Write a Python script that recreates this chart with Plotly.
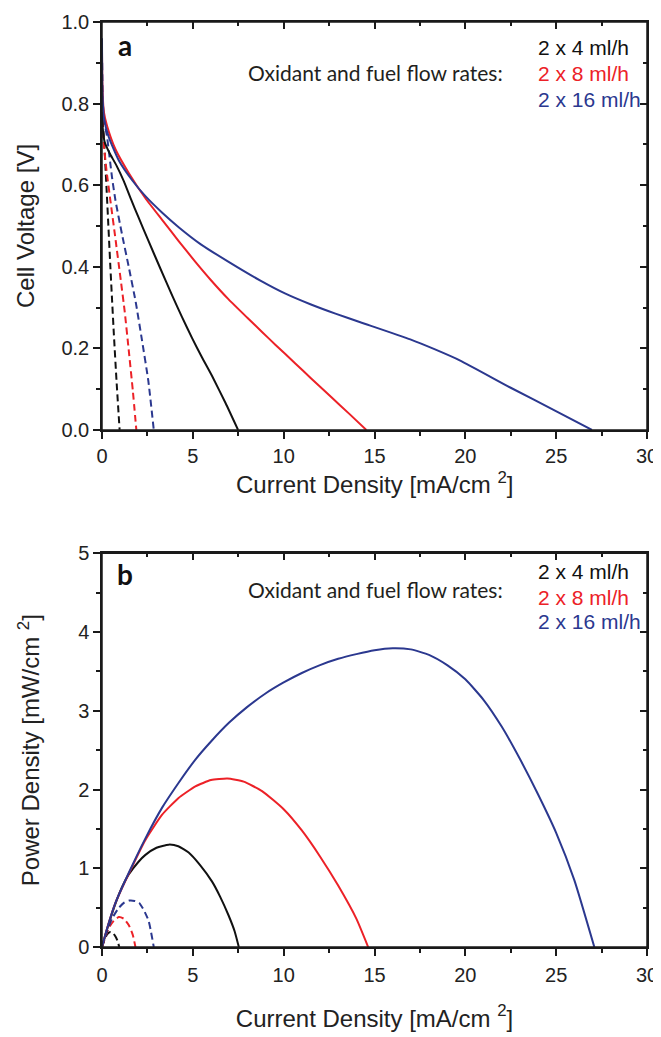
import plotly.graph_objects as go

# ---------------- data: panel a (cell voltage vs current density) ----------------
j_a_4 = [0, 0.05, 0.15, 0.4, 0.8, 1.2, 1.6, 2.0, 2.57, 3.2, 3.86, 4.4, 4.96, 5.5, 6.06, 6.8, 7.49]
v_a_4 = [0.78, 0.735, 0.705, 0.68, 0.648, 0.61, 0.565, 0.522, 0.462, 0.397, 0.33, 0.277, 0.225, 0.178, 0.132, 0.066, 0.0]

j_a_8 = [0, 0.02, 0.1, 0.28, 0.74, 1.47, 2.39, 3.31, 4.22, 5.14, 6.0, 6.97, 8.0, 8.81, 9.54, 10.64, 11.47, 12.63, 13.6, 14.55]
v_a_8 = [0.93, 0.85, 0.78, 0.745, 0.688, 0.63, 0.568, 0.515, 0.463, 0.412, 0.367, 0.32, 0.275, 0.24, 0.209, 0.163, 0.128, 0.08, 0.04, 0.0]

j_a_16 = [0, 0.02, 0.1, 0.37, 0.92, 1.66, 2.39, 3.3, 4.22, 5.44, 6.97, 8.72, 10.1, 11.47, 12.85, 14.22, 16.97, 18.3,
          19.72, 22.47, 25.04, 26.97]
v_a_16 = [0.96, 0.84, 0.767, 0.718, 0.661, 0.612, 0.573, 0.533, 0.497, 0.455, 0.412, 0.366, 0.334, 0.308, 0.285, 0.264,
          0.222, 0.198, 0.17, 0.104, 0.045, 0.0]

j_a_4d = [0.02, 0.1, 0.19, 0.28, 0.46, 0.65, 0.8, 0.97]
v_a_4d = [0.76, 0.72, 0.645, 0.565, 0.40, 0.237, 0.12, 0.0]

j_a_8d = [0.02, 0.1, 0.25, 0.46, 0.75, 1.01, 1.25, 1.47, 1.7, 1.89]
v_a_8d = [0.76, 0.70, 0.635, 0.563, 0.465, 0.375, 0.29, 0.196, 0.095, 0.0]

j_a_16d = [0.01, 0.05, 0.15, 0.28, 0.55, 0.74, 1.1, 1.47, 1.85, 2.2, 2.55, 2.85]
v_a_16d = [0.9, 0.8, 0.75, 0.718, 0.62, 0.563, 0.48, 0.40, 0.315, 0.22, 0.12, 0.0]

# ---------------- data: panel b (power density vs current density) ----------------
j_b_4 = [0, 0.3, 0.74, 1.1, 1.47, 2.0, 2.39, 3.0, 3.67, 4.2, 4.77, 5.4, 6.06, 6.5, 6.97, 7.3, 7.53]
p_b_4 = [0, 0.24, 0.55, 0.76, 0.92, 1.08, 1.17, 1.26, 1.30, 1.28, 1.20, 1.04, 0.83, 0.64, 0.40, 0.20, 0.0]

j_b_8 = [0, 0.3, 0.74, 1.47, 2.39, 3.31, 4.2, 5.14, 6.0, 6.9, 7.8, 8.81, 10, 11, 12, 13, 14, 14.65]
p_b_8 = [0, 0.25, 0.56, 0.93, 1.36, 1.68, 1.89, 2.04, 2.12, 2.14, 2.10, 1.98, 1.75, 1.48, 1.15, 0.78, 0.36, 0.0]

j_b_16 = [0, 0.3, 0.74, 1.47, 2.39, 3.31, 4.2, 5.14, 6, 7, 8, 9, 10, 11, 12, 13, 14, 15, 16, 17, 18, 19, 20,
          21, 22, 23, 24, 25, 26, 27.1]
p_b_16 = [0, 0.25, 0.56, 0.94, 1.38, 1.77, 2.08, 2.38, 2.61, 2.85, 3.05, 3.22, 3.36, 3.48, 3.58, 3.66, 3.72, 3.77, 3.795,
          3.78, 3.71, 3.58, 3.40, 3.14, 2.80, 2.39, 1.94, 1.45, 0.85, 0.0]

j_b_4d = [0, 0.15, 0.28, 0.46, 0.6, 0.75, 0.85, 0.95]
p_b_4d = [0, 0.1, 0.16, 0.19, 0.18, 0.13, 0.08, 0.0]

j_b_8d = [0, 0.2, 0.37, 0.6, 0.92, 1.2, 1.47, 1.7, 1.84]
p_b_8d = [0, 0.14, 0.24, 0.32, 0.38, 0.36, 0.28, 0.15, 0.0]

j_b_16d = [0, 0.25, 0.55, 0.9, 1.2, 1.5, 1.8, 2.05, 2.3, 2.57, 2.85]
p_b_16d = [0, 0.18, 0.36, 0.49, 0.56, 0.59, 0.585, 0.56, 0.47, 0.33, 0.0]

flow_labels = ["2 x 4 ml/h", "2 x 8 ml/h", "2 x 16 ml/h"]
colors = ["#111111", "#EC2127", "#2B388F"]

x_ticks = [0, 5, 10, 15, 20, 25, 30]
v_ticks = [0.0, 0.2, 0.4, 0.6, 0.8, 1.0]
p_ticks = [0, 1, 2, 3, 4, 5]

x_title = "Current Density [mA/cm <sup>2</sup>]"

# ---------------- figure ----------------
fig = go.Figure()
LW = 2.0
DASH = "7px,4px"
SM = 0.5

panel_a = [(j_a_4, v_a_4, j_a_4d, v_a_4d), (j_a_8, v_a_8, j_a_8d, v_a_8d), (j_a_16, v_a_16, j_a_16d, v_a_16d)]
panel_b = [(j_b_4, p_b_4, j_b_4d, p_b_4d), (j_b_8, p_b_8, j_b_8d, p_b_8d), (j_b_16, p_b_16, j_b_16d, p_b_16d)]

for (js, vs, jd, vd), c, name in zip(panel_a, colors, flow_labels):
    fig.add_trace(go.Scatter(x=jd, y=vd, mode="lines", line=dict(color=c, width=LW, dash=DASH, shape="spline", smoothing=SM),
                             xaxis="x", yaxis="y", showlegend=False, name=name))
for (js, vs, jd, vd), c, name in zip(panel_a, colors, flow_labels):
    fig.add_trace(go.Scatter(x=js, y=vs, mode="lines", line=dict(color=c, width=LW, shape="spline", smoothing=SM),
                             xaxis="x", yaxis="y", showlegend=False, name=name))
for (js, ps, jd, pd_), c, name in zip(panel_b, colors, flow_labels):
    fig.add_trace(go.Scatter(x=jd, y=pd_, mode="lines", line=dict(color=c, width=LW, dash=DASH, shape="spline", smoothing=SM),
                             xaxis="x2", yaxis="y2", showlegend=False, name=name))
for (js, ps, jd, pd_), c, name in zip(panel_b, colors, flow_labels):
    fig.add_trace(go.Scatter(x=js, y=ps, mode="lines", line=dict(color=c, width=LW, shape="spline", smoothing=SM),
                             xaxis="x2", yaxis="y2", showlegend=False, name=name))

# invisible single-point traces so that the mirrored (top / right) tick axes are drawn
for xa, ya in [("x3", "y"), ("x", "y3"), ("x4", "y2"), ("x2", "y4")]:
    fig.add_trace(go.Scatter(x=[0], y=[0], xaxis=xa, yaxis=ya, mode="lines", line=dict(width=0),
                             showlegend=False, hoverinfo="skip"))

AX = "#1A1A1A"
AXW = 1.5
TICKFONT = dict(family="Liberation Sans, Arial, sans-serif", size=20, color="#222222")
TITLEFONT = dict(family="Liberation Sans, Arial, sans-serif", size=24, color="#222222")

def main_axis(**kw):
    d = dict(showline=True, linecolor=AX, linewidth=AXW, mirror=True, ticks="outside", ticklen=7,
             tickwidth=AXW, tickcolor=AX, showgrid=False, zeroline=False, tickfont=TICKFONT, automargin=False)
    d.update(kw)
    return d

def mirror_axis(**kw):
    d = dict(showline=True, linecolor=AX, linewidth=AXW, ticks="inside", ticklen=7, tickwidth=AXW,
             tickcolor=AX, showgrid=False, zeroline=False, showticklabels=False)
    d.update(kw)
    return d

def minor(ticks, dt):
    return dict(ticks=ticks, ticklen=4, tickwidth=AXW, tickcolor=AX, dtick=dt, showgrid=False)

DOM_A = [0.559, 1.0]
DOM_B = [0.0, 0.4256]

# the page body keeps the browser's 8px margin, so the figure is 8px smaller and margins compensate
fig.update_layout(
    width=653, height=1029,
    margin=dict(l=94, r=14, t=14, b=90),
    paper_bgcolor="white", plot_bgcolor="white",
    showlegend=False,
    xaxis=main_axis(domain=[0, 1], anchor="y", range=[0, 30], tickvals=x_ticks, minor=minor("outside", 2.5)),
    yaxis=main_axis(domain=DOM_A, anchor="x", range=[0, 1.0], tickvals=v_ticks, tickformat=".1f",
                    minor=minor("outside", 0.1),
                    title=dict(text="Cell Voltage [V]", font=TITLEFONT, standoff=20)),
    xaxis3=mirror_axis(overlaying="x", anchor="y", side="top", range=[0, 30], tickvals=x_ticks,
                       minor=minor("inside", 2.5)),
    yaxis3=mirror_axis(overlaying="y", anchor="x", side="right", range=[0, 1.0], tickvals=v_ticks,
                       minor=minor("inside", 0.1)),
    xaxis2=main_axis(domain=[0, 1], anchor="y2", range=[0, 30], tickvals=x_ticks, minor=minor("outside", 2.5),
                     ticklabelstandoff=2,
                     title=dict(text=x_title, font=TITLEFONT, standoff=25)),
    yaxis2=main_axis(domain=DOM_B, anchor="x2", range=[0, 5], tickvals=p_ticks, minor=minor("outside", 0.5),
                     title=dict(text="Power Density [mW/cm <sup>2</sup>]", font=TITLEFONT, standoff=32)),
    xaxis4=mirror_axis(overlaying="x2", anchor="y2", side="top", range=[0, 30], tickvals=x_ticks,
                       minor=minor("inside", 2.5)),
    yaxis4=mirror_axis(overlaying="y2", anchor="x2", side="right", range=[0, 5], tickvals=p_ticks,
                       minor=minor("inside", 0.5)),
)

# frame around each panel (plot-area box)
for xr, yr in [("x domain", "y domain"), ("x2 domain", "y2 domain")]:
    fig.add_shape(type="rect", xref=xr, yref=yr, x0=0, x1=1, y0=0, y1=1,
                  line=dict(color=AX, width=AXW), fillcolor="rgba(0,0,0,0)", layer="above")

# panel a x-axis title sits close under its tick labels
fig.add_annotation(xref="x domain", yref="y domain", x=0.5, y=-0.13, text=x_title, showarrow=False,
                   xanchor="center", yanchor="middle", font=TITLEFONT)

LABEL_FONT = dict(family="Lato, 'Open Sans', sans-serif", size=21, color="#231F20")
FLOW_SIZE = 21

for (xr, yr), letter, ys in [
    (("x domain", "y domain"), "a", (0.943, 0.877, 0.938, 0.874, 0.811)),
    (("x2 domain", "y2 domain"), "b", (0.947, 0.909, 0.955, 0.889, 0.826)),
]:
    fig.add_annotation(xref=xr, yref=yr, x=0.042, y=ys[0], text="<b>%s</b>" % letter, showarrow=False,
                       xanchor="center", yanchor="middle",
                       font=dict(family="Lato, 'Open Sans', sans-serif", size=28, color="#111111"))
    fig.add_annotation(xref=xr, yref=yr, x=0.740, y=ys[1], text="Oxidant and fuel flow rates:", showarrow=False,
                       xanchor="right", yanchor="middle", font=LABEL_FONT)
    for k, (lab, c) in enumerate(zip(flow_labels, colors)):
        fig.add_annotation(xref=xr, yref=yr, x=0.797, y=ys[2 + k], text=lab, showarrow=False,
                           xanchor="left", yanchor="middle",
                           font=dict(family="Liberation Sans, Arial, sans-serif", size=FLOW_SIZE, color=c))

fig.write_html("out.html")
